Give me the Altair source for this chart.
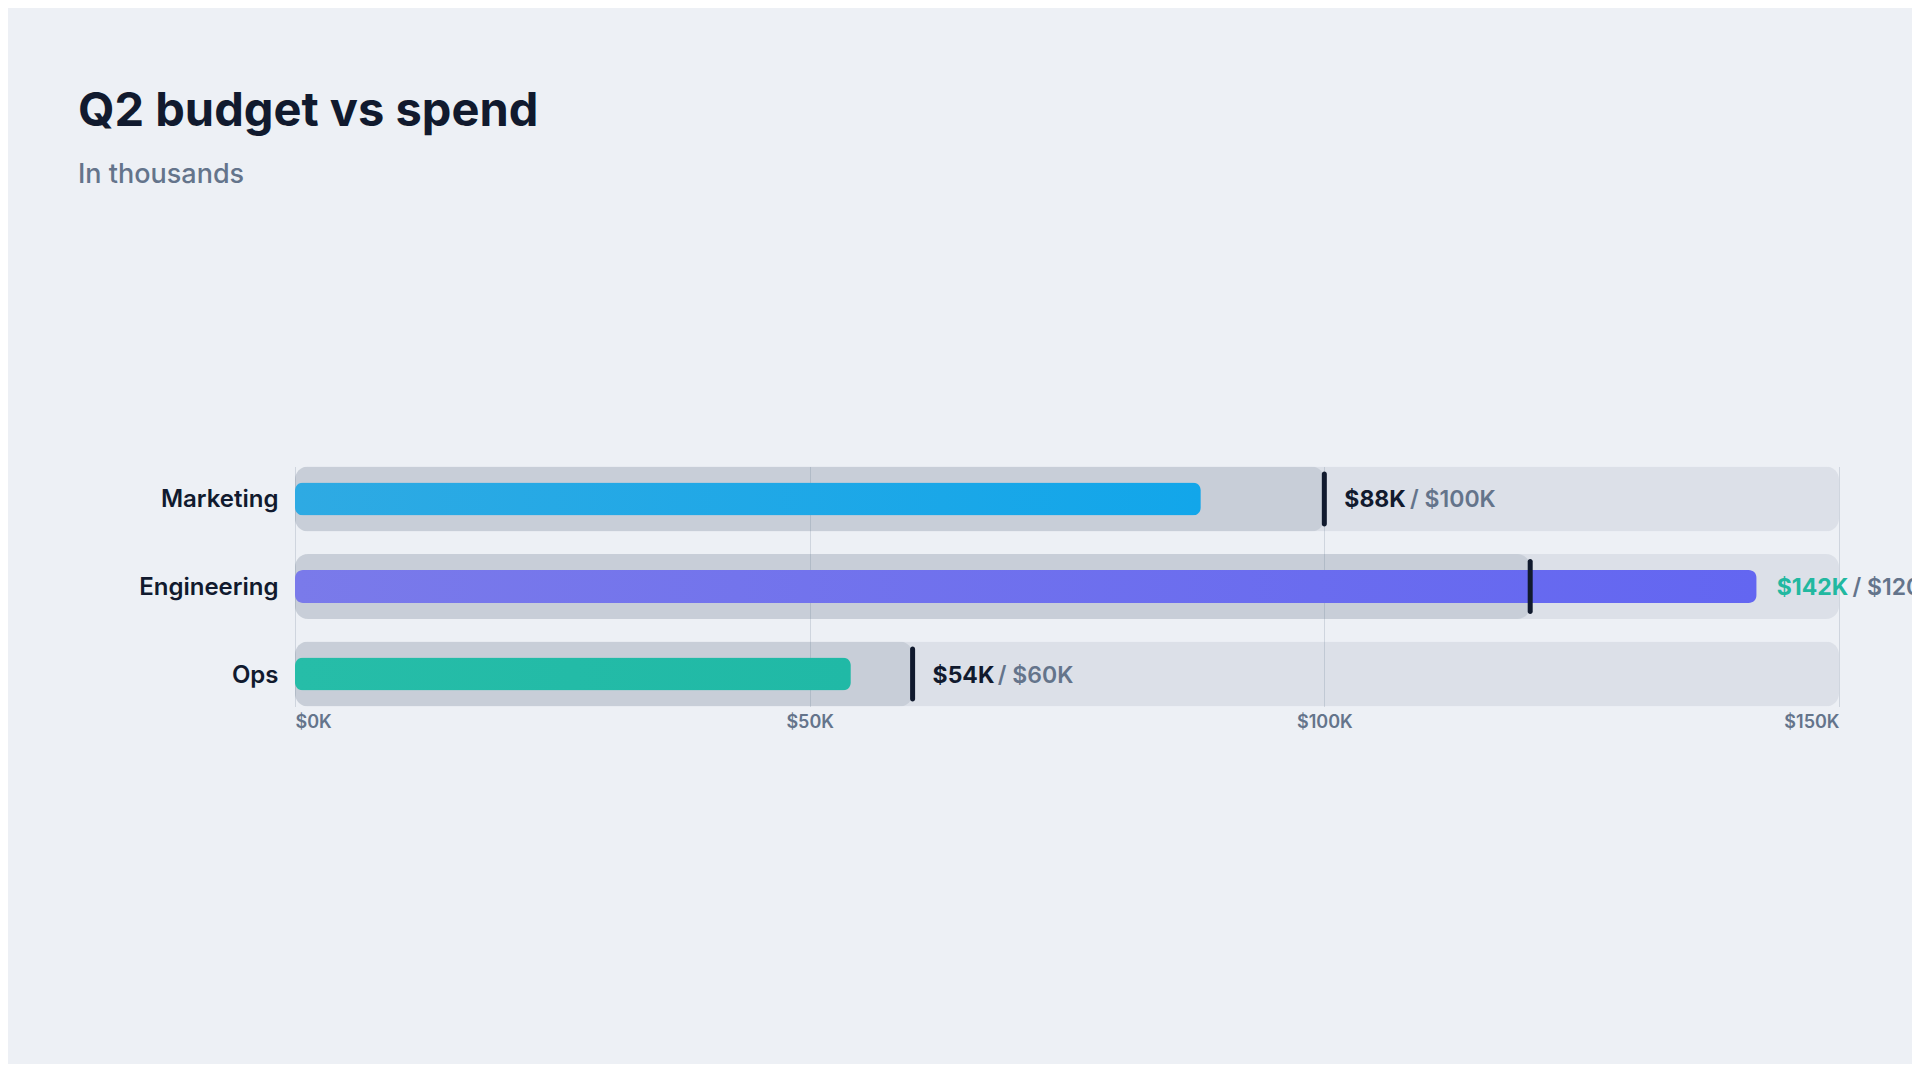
import altair as alt
import pandas as pd

# ---- data ----
categories = ["Marketing", "Engineering", "Ops"]
spend = [88, 142, 54]
budget = [100, 120, 60]
axis_max = 150
x_ticks = [0, 50, 100, 150]
grad_start = ["#2eaae3", "#7a7aea", "#26bda8"]
grad_end = ["#12a6ea", "#6366f1", "#20b9a6"]

TITLE = "Q2 budget vs spend"
SUBTITLE = "In thousands"

DARK = "#111a2e"
GRAY = "#64748b"
OVER = "#22b8a0"
FONT = "Inter"

# approximate advance widths (em) of Inter Bold, used to place the gray part after the bold part
BOLD_EM = {"$": 0.64, "K": 0.70, "1": 0.46, "0": 0.66, "2": 0.62, "3": 0.64, "4": 0.66,
           "5": 0.62, "6": 0.64, "7": 0.58, "8": 0.65, "9": 0.64}
VAL_SIZE = 23


def bold_width(s, size=VAL_SIZE):
    return sum(BOLD_EM.get(c, 0.62) for c in s) * size


df = pd.DataFrame({
    "category": categories,
    "spend": spend,
    "budget": budget,
    "track": [axis_max] * len(categories),
})
df["label_x"] = df[["spend", "budget"]].max(axis=1)
df["spend_label"] = ["$" + str(s) + "K" for s in spend]
df["budget_label"] = ["/ $" + str(b) + "K" for b in budget]
df["value_color"] = [OVER if s > b else DARK for s, b in zip(spend, budget)]

x_axis = alt.Axis(
    values=x_ticks, labelExpr="'$' + datum.value + 'K'", labelFlush=True,
    grid=True, gridColor="#cfd5de", gridWidth=1, ticks=False, domain=False,
    labelFontSize=18, labelFontWeight=600, labelColor=GRAY, labelFont=FONT,
    labelPadding=7, title=None,
)
x_scale = alt.Scale(domain=[0, axis_max], nice=False, zero=True)
y_enc = alt.Y(
    "category:N", sort=categories,
    scale=alt.Scale(paddingInner=0.258, paddingOuter=0),
    axis=alt.Axis(title=None, ticks=False, domain=False, labelFontSize=24,
                  labelFontWeight=600, labelColor=DARK, labelFont=FONT,
                  labelPadding=17, labelOffset=1.5, grid=False),
)


def xq(field):
    return alt.X(field + ":Q", scale=x_scale, axis=x_axis)


base = alt.Chart(df)

track = base.mark_bar(size=65, cornerRadius=13, color=GRAY, opacity=0.12).encode(
    x=xq("track"), y=y_enc)
budget_bar = base.mark_bar(size=65, cornerRadius=13, color=GRAY, opacity=0.17).encode(
    x=xq("budget"), y=y_enc)

layers = [track, budget_bar]
for i, cat in enumerate(categories):
    grad = alt.Gradient(
        gradient="linear",
        stops=[alt.GradientStop(color=grad_start[i], offset=0),
               alt.GradientStop(color=grad_end[i], offset=1)],
        x1=0, x2=1, y1=0, y2=0,
    )
    layers.append(
        base.transform_filter(alt.datum.category == cat)
        .mark_bar(size=33, cornerRadius=8, color=grad)
        .encode(x=xq("spend"), y=y_enc)
    )

marker = base.mark_tick(size=55, thickness=5, cornerRadius=2.5, color=DARK, opacity=1).encode(
    x=xq("budget"), y=y_enc)
layers.append(marker)

for i, cat in enumerate(categories):
    sub = base.transform_filter(alt.datum.category == cat)
    layers.append(
        sub.mark_text(align="left", baseline="middle", dx=20, dy=1.5, font=FONT,
                      fontSize=VAL_SIZE, fontWeight=700)
        .encode(x=xq("label_x"), y=y_enc, text="spend_label:N",
                color=alt.Color("value_color:N", scale=None))
    )
    layers.append(
        sub.mark_text(align="left", baseline="middle", dy=1.5,
                      dx=20 + bold_width("$" + str(spend[i]) + "K") + 5, font=FONT,
                      fontSize=VAL_SIZE, fontWeight=600, color=GRAY)
        .encode(x=xq("label_x"), y=y_enc, text="budget_label:N")
    )

chart = alt.layer(*layers).properties(
    width=1544,
    height=240,
    autosize="none",
    padding={"left": 287, "top": 458.5, "right": 73, "bottom": 357.5},
    background="#edf0f5",
    title=alt.TitleParams(
        text=TITLE, subtitle=SUBTITLE, anchor="start", frame="group",
        dx=-217, offset=277, font=FONT, fontSize=47, fontWeight=700, color=DARK,
        subtitleFont=FONT, subtitleFontSize=27, subtitleFontWeight=500,
        subtitleColor=GRAY, subtitlePadding=26,
    ),
).configure_view(stroke=None)

chart.save("out.html", embed_options={"renderer": "svg", "actions": False})
